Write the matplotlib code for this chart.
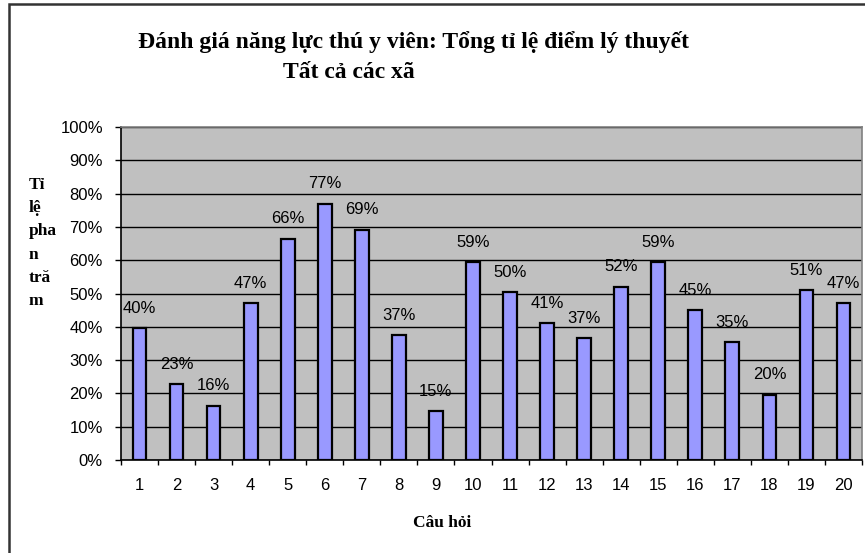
import matplotlib
matplotlib.use('Agg')
import matplotlib.pyplot as plt
from matplotlib.patches import Rectangle
import numpy as np

# data
questions = [str(i) for i in range(1, 21)]
scores = [39.6, 22.8, 16.3, 47.0, 66.4, 77.0, 69.2, 37.4, 14.6, 59.4,
          50.4, 41.0, 36.6, 52.0, 59.4, 45.0, 35.4, 19.6, 51.0, 47.0]
ytick_values = list(range(0, 101, 10))

title_1 = 'Đánh giá năng lực thú y viên: Tổng tỉ lệ điểm lý thuyết'
title_2 = 'Tất cả các xã'
ylabel = 'Tỉ\nlệ\npha\nn\ntră\nm'
xlabel = 'Câu hỏi'

W, H = 865, 553
sans = 'Liberation Sans'
serif = 'Liberation Serif'

fig = plt.figure(figsize=(W / 100, H / 100), dpi=100)
fig.patch.set_facecolor('white')

# outer chart border (left and top visible)
fig.patches.append(Rectangle((9 / W, -0.05), 1.2, 1 - 4 / H + 0.05,
                             transform=fig.transFigure, fill=False,
                             edgecolor='#333333', linewidth=1.8))

ax = fig.add_axes([121 / W, 1 - 460 / H, (862 - 121) / W, (460 - 127) / H])
ax.set_facecolor('#C0C0C0')

x = np.arange(len(questions))
ax.bar(x, scores, width=0.37, color='#9999FF', edgecolor='black',
       linewidth=1.6, zorder=3)

for xi, v in zip(x, scores):
    ax.annotate('%d%%' % round(v), (xi, v), xytext=(0, 14.4),
                textcoords='offset points', ha='center', va='center',
                fontsize=12, family=sans, color='black', zorder=4)

ax.set_xlim(-0.5, len(questions) - 0.5)
ax.set_ylim(0, 100)

ax.set_yticks(ytick_values)
ax.set_yticklabels(['%d%%' % v for v in ytick_values], family=sans, fontsize=12)
ax.set_xticks(x)
ax.set_xticklabels(questions, family=sans, fontsize=12)
ax.set_xticks(np.arange(-0.5, len(questions)), minor=True)

ax.tick_params(axis='x', which='major', length=0, pad=13)
ax.tick_params(axis='x', which='minor', length=3.6, width=1, direction='out')
ax.tick_params(axis='y', which='major', length=4.3, width=1, direction='out', pad=8.7)

ax.yaxis.grid(True, color='black', linewidth=1, zorder=1)
ax.set_axisbelow(True)

ax.spines['left'].set_color('black')
ax.spines['bottom'].set_color('black')
ax.spines['top'].set_color('#808080')
ax.spines['right'].set_color('#808080')
for s in ax.spines.values():
    s.set_linewidth(1.2)
    s.set_zorder(5)

fig.text(414 / W, 1 - 42 / H, title_1, ha='center', va='center',
         family=serif, weight='bold', fontsize=17)
fig.text(349 / W, 1 - 72 / H, title_2, ha='center', va='center',
         family=serif, weight='bold', fontsize=17)

fig.text(29 / W, 1 - 243 / H, ylabel, ha='left', va='center', multialignment='left',
         family=serif, weight='bold', fontsize=12.5, linespacing=1.6)
fig.text(442 / W, 1 - 523 / H, xlabel, ha='center', va='center',
         family=serif, weight='bold', fontsize=12.5)

fig.savefig('out.png', dpi=100)
